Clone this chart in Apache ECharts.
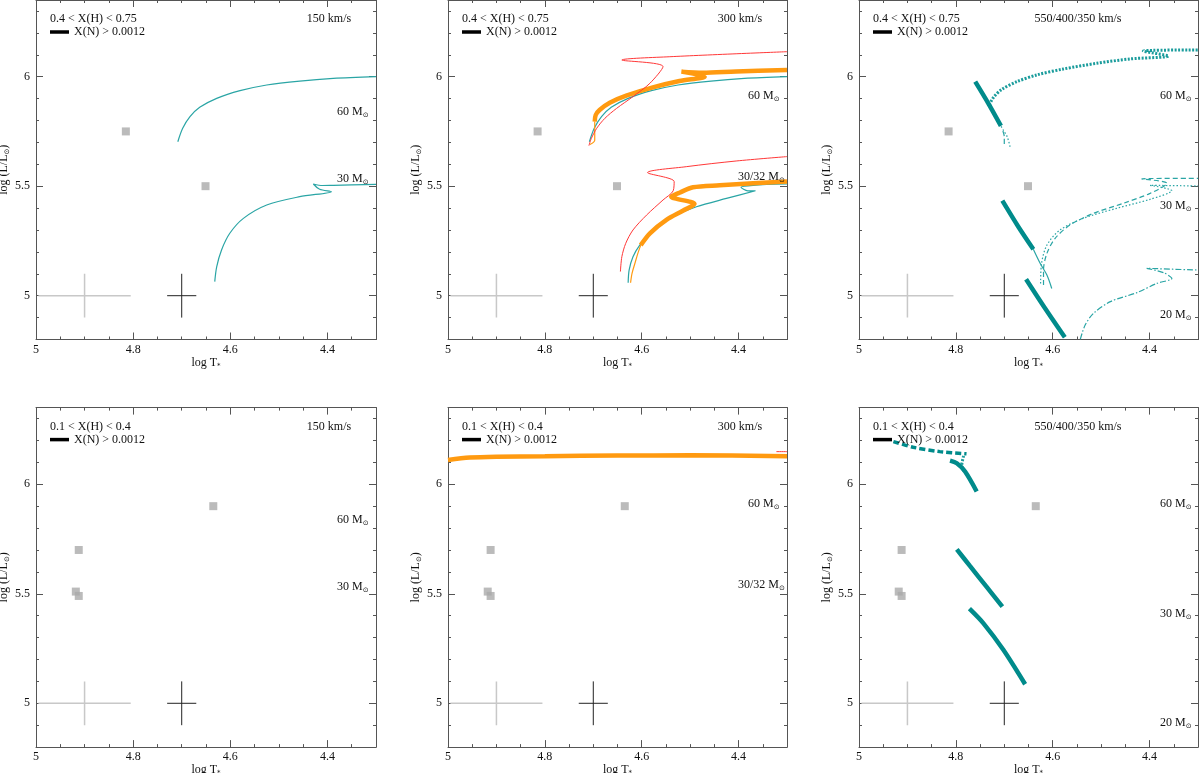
<!DOCTYPE html>
<html><head><meta charset="utf-8">
<script src="https://cdn.jsdelivr.net/npm/echarts@6/dist/echarts.min.js"></script>
<style>html,body{margin:0;padding:0;background:#fff}#c{width:1200px;height:773px}</style>
</head><body><div id="c"></div><script>
// ---------- tick labels ----------
const xLabelValues = [5, 4.8, 4.6, 4.4];
const yLabelValues = [5, 5.5, 6];

// ---------- observed stars (log T, log L) ----------
const squaresTop = [[4.815, 5.75], [4.651, 5.50]];
const squaresBottom = [[4.635, 5.90], [4.912, 5.70], [4.918, 5.51], [4.912, 5.49]];
// error crosses: [logT, logL, dlogT, dlogL]
const errLight = [4.9, 5.0, 0.095, 0.1];
const errDark = [4.70, 5.0, 0.03, 0.1];

// ---------- panel 1 : 150 km/s ----------
const p1_m60 = [[4.708,5.703],[4.698,5.764],[4.683,5.817],[4.663,5.860],[4.628,5.901],[4.580,5.936],[4.525,5.962],[4.457,5.980],[4.388,5.992],[4.300,6.000]];
const p1_m30 = [[4.632,5.064],[4.628,5.132],[4.618,5.209],[4.601,5.285],[4.573,5.353],[4.525,5.414],[4.457,5.452],[4.392,5.475],[4.416,5.486],[4.429,5.510],[4.410,5.503],[4.388,5.504],[4.300,5.508]];

// ---------- panel 2 : 300 km/s ----------
const p2_cyan30 = [[4.628,5.059],[4.626,5.117],[4.618,5.178],[4.604,5.231],[4.577,5.300],[4.535,5.361],[4.487,5.406],[4.425,5.444],[4.365,5.479],[4.381,5.479],[4.395,5.495],[4.370,5.504],[4.300,5.510]];
const p2_red60 = [[4.709,5.685],[4.704,5.718],[4.693,5.764],[4.676,5.810],[4.652,5.855],[4.618,5.909],[4.583,5.970],[4.556,6.046],[4.641,6.076],[4.542,6.091],[4.300,6.114]];
const p2_orangeThin60 = [[4.707,5.690],[4.697,5.710],[4.697,5.750],[4.697,5.795]];
const p2_orangeThick60 = [[4.697,5.795],[4.695,5.825],[4.687,5.848],[4.666,5.881],[4.632,5.913],[4.577,5.951],[4.522,5.980],[4.470,6.000],[4.518,6.023],[4.474,6.018],[4.405,6.024],[4.300,6.030]];
const p2_red30 = [[4.644,5.110],[4.641,5.178],[4.633,5.239],[4.618,5.300],[4.590,5.368],[4.556,5.437],[4.535,5.479],[4.533,5.521],[4.588,5.562],[4.508,5.589],[4.405,5.615],[4.300,5.635]];
const p2_orangeThin30 = [[4.623,5.059],[4.620,5.102],[4.614,5.148],[4.608,5.193],[4.602,5.231]];
const p2_orangeThick30 = [[4.602,5.231],[4.583,5.285],[4.549,5.346],[4.515,5.388],[4.491,5.419],[4.539,5.452],[4.522,5.470],[4.494,5.495],[4.439,5.504],[4.370,5.513],[4.300,5.521]];

// ---------- panel 3 : 550/400/350 km/s ----------
const p3_thick60 = [[4.707,5.775],[4.733,5.878],[4.760,5.977]];
const p3_dot60 = [[4.688,5.680],[4.694,5.726],[4.702,5.756],[4.707,5.775]];
const p3_dash60 = [[4.700,5.693],[4.700,5.726],[4.705,5.764]];
const p3_dotUpper60 = [[4.731,5.871],[4.722,5.906],[4.705,5.942],[4.674,5.977],[4.633,6.008],[4.578,6.035],[4.509,6.061],[4.440,6.081],[4.361,6.094],[4.413,6.117],[4.300,6.122]];
const p3_thick30 = [[4.704,5.434],[4.671,5.315],[4.640,5.212]];
const p3_thin30 = [[4.640,5.212],[4.626,5.148],[4.612,5.094],[4.602,5.033]];
const p3_dash30 = [[4.619,5.049],[4.619,5.117],[4.612,5.193],[4.595,5.262],[4.564,5.323],[4.516,5.376],[4.454,5.422],[4.399,5.467],[4.364,5.513],[4.416,5.533],[4.300,5.536]];
const p3_dot30 = [[4.625,5.056],[4.623,5.148],[4.612,5.231],[4.585,5.300],[4.537,5.353],[4.468,5.399],[4.399,5.440],[4.354,5.479],[4.399,5.504],[4.300,5.501]];
const p3_thick20 = [[4.655,5.075],[4.619,4.953],[4.575,4.810]];
const p3_dashdot20 = [[4.543,4.801],[4.533,4.866],[4.516,4.919],[4.481,4.973],[4.426,5.014],[4.385,5.056],[4.354,5.079],[4.371,5.105],[4.406,5.125],[4.300,5.117]];

// ---------- panel 5 : 300 km/s, 0.1<X(H)<0.4 ----------
const p5_orange60 = [[5.000,6.111],[4.955,6.122],[4.900,6.126],[4.800,6.128],[4.650,6.131],[4.500,6.132],[4.300,6.128]];
const p5_red60 = [[4.322,6.149],[4.300,6.149]];

// ---------- panel 6 : 550/400/350 km/s, 0.1<X(H)<0.4 ----------
const p6_dashThick60 = [[4.929,6.195],[4.888,6.169],[4.833,6.149],[4.778,6.139]];
const p6_dotThick60 = [[4.784,6.130],[4.788,6.084],[4.774,6.035],[4.759,5.974]];
const p6_thick60 = [[4.812,6.108],[4.798,6.096],[4.781,6.058],[4.757,5.967]];
const p6_thick30 = [[4.798,5.703],[4.771,5.627],[4.736,5.530],[4.704,5.441]];
const p6_thick20 = [[4.772,5.432],[4.743,5.365],[4.702,5.244],[4.657,5.087]];

// ---------- styles ----------
const FONT = '"Liberation Serif", "DejaVu Serif", serif';
const TEAL = '#2aa5a5', DTEAL = '#008b8b', ORANGE = '#ff9a10', RED = '#ff3838';
const ST = {
  thin:      {color: TEAL, width: 1.2, type: 'solid'},
  dash:      {color: TEAL, width: 1.2, type: [5, 3]},
  dot:       {color: TEAL, width: 1.2, type: [1.5, 2]},
  dashdot:   {color: TEAL, width: 1.2, type: [6, 2, 1.5, 2]},
  dotThick:  {color: '#1a9c9c', width: 3, type: [2, 1.5]},
  dashThick: {color: DTEAL, width: 3.5, type: [6, 3]},
  thick:     {color: DTEAL, width: 4.5, type: 'solid'},
  oThin:     {color: ORANGE, width: 1.2, type: 'solid'},
  oThick:    {color: ORANGE, width: 4.5, type: 'solid'},
  red:       {color: RED, width: 1, type: 'solid'}
};

const XH1 = '0.4 < X(H) < 0.75', XH2 = '0.1 < X(H) < 0.4';
const panels = [
  {row:0, col:0, xh:XH1, vel:'150 km/s', velX:293, squares:squaresTop,
   masses:[['60',301,112],['30',301,179]],
   lines:[[p1_m60,'thin'],[p1_m30,'thin']]},
  {row:0, col:1, xh:XH1, vel:'300 km/s', velX:292, squares:squaresTop,
   masses:[['60',300,96],['30/32',290,177]],
   lines:[[p1_m60,'thin'],[p2_cyan30,'thin'],[p2_orangeThin60,'oThin'],[p2_orangeThick60,'oThick'],
          [p2_orangeThin30,'oThin'],[p2_orangeThick30,'oThick'],[p2_red60,'red'],[p2_red30,'red']]},
  {row:0, col:2, xh:XH1, vel:'550/400/350 km/s', velX:219, squares:squaresTop,
   masses:[['60',301,96],['30',301,206],['20',301,315]],
   lines:[[p3_dot60,'dot'],[p3_dash60,'dash'],[p3_dotUpper60,'dotThick'],[p3_thick60,'thick'],
          [p3_thin30,'thin'],[p3_dash30,'dash'],[p3_dot30,'dot'],[p3_thick30,'thick'],
          [p3_dashdot20,'dashdot'],[p3_thick20,'thick']]},
  {row:1, col:0, xh:XH2, vel:'150 km/s', velX:293, squares:squaresBottom,
   masses:[['60',301,112],['30',301,179]], lines:[]},
  {row:1, col:1, xh:XH2, vel:'300 km/s', velX:292, squares:squaresBottom,
   masses:[['60',300,96],['30/32',290,177]],
   lines:[[p5_orange60,'oThick'],[p5_red60,'red']]},
  {row:1, col:2, xh:XH2, vel:'550/400/350 km/s', velX:219, squares:squaresBottom,
   masses:[['60',301,96],['30',301,206],['20',301,315]],
   lines:[[p6_dashThick60,'dashThick'],[p6_dotThick60,'dotThick'],[p6_thick60,'thick'],[p6_thick30,'thick'],[p6_thick20,'thick']]}
];

// ---------- layout ----------
const colLeft = [36, 448, 859], colW = [340, 339, 339];
const rowTop = [0, 407.6], rowH = 339.5;
const AX = '#555';
const rich = {
  n: {fontFamily: FONT, fontSize: 12, color: '#111', lineHeight: 14, verticalAlign: 'middle'},
  s: {fontFamily: 'DejaVu Sans', fontSize: 7, color: '#111', lineHeight: 7, verticalAlign: 'bottom'}
};

function xAxes(g) {
  const base = {gridIndex: g, type: 'value', min: 4.3, max: 5, inverse: true, splitLine: {show: false},
    axisLine: {show: true, onZero: false, lineStyle: {color: AX, width: 1}}};
  const minorT = {show: true, inside: true, length: 3, lineStyle: {color: AX, width: 1}};
  const majorT = {show: true, inside: true, length: 7, customValues: xLabelValues, lineStyle: {color: AX, width: 1}};
  return [
    Object.assign({}, base, {position: 'bottom', interval: 0.05, axisTick: minorT,
      axisLabel: {show: true, customValues: xLabelValues, margin: 4, color: '#111', fontFamily: FONT, fontSize: 12},
      name: '{n|log T}{s|*}', nameLocation: 'middle', nameGap: 14, nameTextStyle: {rich: rich}}),
    Object.assign({}, base, {position: 'bottom', axisLine: {show: false, onZero: false}, axisTick: majorT, axisLabel: {show: false}}),
    Object.assign({}, base, {position: 'top', interval: 0.05, axisTick: minorT, axisLabel: {show: false}}),
    Object.assign({}, base, {position: 'top', axisLine: {show: false, onZero: false}, axisTick: majorT, axisLabel: {show: false}})
  ];
}
function yAxes(g) {
  const base = {gridIndex: g, type: 'value', min: 4.8, max: 6.35, splitLine: {show: false},
    axisLine: {show: true, onZero: false, lineStyle: {color: AX, width: 1}}};
  const minorT = {show: true, inside: true, length: 3, lineStyle: {color: AX, width: 1}};
  const majorT = {show: true, inside: true, length: 7, customValues: yLabelValues, lineStyle: {color: AX, width: 1}};
  return [
    Object.assign({}, base, {position: 'left', interval: 0.1, axisTick: minorT,
      axisLabel: {show: true, customValues: yLabelValues, margin: 6, color: '#111', fontFamily: FONT, fontSize: 12},
      name: '{n|log (L/L}{s|⊙}{n|)}', nameLocation: 'middle', nameGap: 17, nameTextStyle: {rich: rich}}),
    Object.assign({}, base, {position: 'left', axisLine: {show: false, onZero: false}, axisTick: majorT, axisLabel: {show: false}}),
    Object.assign({}, base, {position: 'right', interval: 0.1, axisTick: minorT, axisLabel: {show: false}}),
    Object.assign({}, base, {position: 'right', axisLine: {show: false, onZero: false}, axisTick: majorT, axisLabel: {show: false}})
  ];
}
function txt(text, x, y, align) {
  return {type: 'text', x: x, y: y, silent: true, z: 100,
    style: {text: text, fill: '#111', fontFamily: FONT, fontSize: 12, font: '12px ' + FONT,
      align: align || 'left', textAlign: align || 'left', verticalAlign: 'middle', textVerticalAlign: 'middle', rich: rich}};
}

const option = {animation: false, backgroundColor: '#fff', grid: [], xAxis: [], yAxis: [], series: [], graphic: []};

panels.forEach(function (p, g) {
  const left = colLeft[p.col], top = rowTop[p.row], w = colW[p.col];
  option.grid.push({left: left, top: top, width: w, height: rowH, containLabel: false, outerBoundsMode: 'none'});
  option.xAxis.push.apply(option.xAxis, xAxes(g));
  option.yAxis.push.apply(option.yAxis, yAxes(g));
  const xi = 4 * g, yi = 4 * g;
  const lineS = function (data, ls, z, smooth) {
    return {type: 'line', xAxisIndex: xi, yAxisIndex: yi, data: data, showSymbol: false, symbol: 'none',
      clip: true, silent: true, lineStyle: ls, z: z || 2, smooth: smooth || false, emphasis: {disabled: true}};
  };
  [[errLight, {color: '#c8c8c8', width: 1.5}], [errDark, {color: '#222', width: 1}]].forEach(function (c) {
    const e = c[0];
    option.series.push(lineS([[e[0] - e[2], e[1]], [e[0] + e[2], e[1]]], c[1], 1));
    option.series.push(lineS([[e[0], e[1] - e[3]], [e[0], e[1] + e[3]]], c[1], 1));
  });
  option.series.push({type: 'scatter', xAxisIndex: xi, yAxisIndex: yi, data: p.squares, symbol: 'rect',
    symbolSize: 8, itemStyle: {color: '#aaaaaa'}, silent: true, z: 1});
  p.lines.forEach(function (l) { option.series.push(lineS(l[0], ST[l[1]], 3, 0.3)); });

  // annotations
  option.graphic.push(txt(p.xh, left + 14, top + 19));
  option.graphic.push({type: 'line', silent: true, z: 100, shape: {x1: left + 14, y1: top + 32, x2: left + 33, y2: top + 32},
    style: {stroke: '#000', lineWidth: 3.5}});
  option.graphic.push(txt('X(N) > 0.0012', left + 38, top + 32));
  option.graphic.push(txt(p.vel, left + p.velX, top + 19, 'center'));
  p.masses.forEach(function (m) {
    option.graphic.push(txt('{n|' + m[0] + ' M}{s|⊙}', left + m[1], top + m[2]));
  });
});

const chart = echarts.init(document.getElementById('c'), null, {renderer: 'canvas'});
chart.setOption(option);
</script></body></html>
